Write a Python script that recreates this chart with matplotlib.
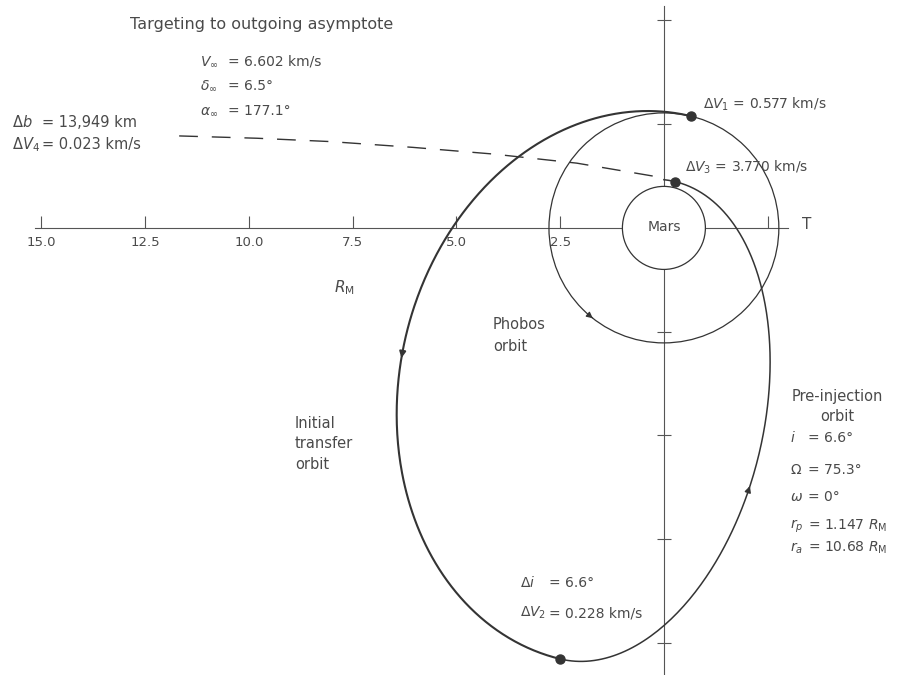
import numpy as np
import matplotlib
matplotlib.use("Agg")
import matplotlib.pyplot as plt
from matplotlib.patches import Circle, FancyArrowPatch

# radii in Mars radii (R_M)
r_mars = 1.0
r_phobos = 2.77
rp_pre, ra_pre = 1.147, 10.68      # pre-injection orbit
rp_xfer, ra_xfer = 2.77, 10.68     # initial transfer orbit (leaves Phobos orbit)
apse_deg = 103.5                   # line of apsides in the plot plane

# dashed track towards the outgoing asymptote
asym_x = [0.27, 2.10, 4.12, 6.05, 8.05, 9.81, 11.83]
asym_y = [1.25, 1.56, 1.78, 1.94, 2.08, 2.16, 2.22]

# where the direction arrows sit (polar angle, deg)
arrow_phobos = -51.0
arrow_xfer = -26.0
arrow_pre = -108.0

x_ticks = [15.0, 12.5, 10.0, 7.5, 5.0, 2.5, -2.5]
x_tick_labels = ["15.0", "12.5", "10.0", "7.5", "5.0", "2.5", ""]
y_ticks = [5.0, 2.5, -2.5, -5.0, -7.5, -10.0]

LINE = "#343434"
AXC = "#555555"
TXT = "#4a4a4a"

plt.rcParams["font.family"] = "DejaVu Sans"
plt.rcParams["mathtext.fontset"] = "dejavusans"


def conic(rp, ra, th_deg):
    e = (ra - rp) / (ra + rp)
    p = rp * (1 + e)
    th = np.radians(th_deg)
    r = p / (1 + e * np.cos(th - np.radians(apse_deg)))
    return r * np.cos(th), r * np.sin(th)


def circ(r, th_deg):
    th = np.radians(th_deg)
    return r * np.cos(th), r * np.sin(th)


def arrow(ax, fn, th, lw):
    # short arrow along decreasing polar angle
    x0, y0 = fn(th + 0.8)
    x1, y1 = fn(th - 0.8)
    ax.add_patch(FancyArrowPatch((x0, y0), (x1, y1), arrowstyle="-|>",
                                 mutation_scale=9, color=LINE, lw=lw, zorder=4))


fig = plt.figure(figsize=(9, 6.75), dpi=100)
ax = fig.add_axes([0, 0, 1, 1])
ax.set_xlim(16.0, -5.69)
ax.set_ylim(-10.77, 5.49)

# axes through Mars centre
for side in ["top", "right"]:
    ax.spines[side].set_visible(False)
ax.spines["bottom"].set_position(("data", 0))
ax.spines["left"].set_position(("data", 0))
ax.spines["bottom"].set_bounds(-3.0, 15.15)
ax.spines["left"].set_bounds(-10.8, 5.35)
for side in ["bottom", "left"]:
    ax.spines[side].set_color(AXC)
    ax.spines[side].set_linewidth(0.8)
ax.set_xticks(x_ticks)
ax.set_xticklabels(x_tick_labels)
ax.set_yticks(y_ticks)
ax.set_yticklabels([])
ax.tick_params(axis="x", direction="in", length=8.5, width=0.8, color=AXC,
               labelsize=9.5, labelcolor=TXT, pad=6)
ax.tick_params(axis="y", direction="inout", length=10.5, width=0.8, color=AXC)

# Mars and Phobos orbit
ax.add_patch(Circle((0, 0), r_mars, fc="white", ec=LINE, lw=0.9, zorder=3))
ax.add_patch(Circle((0, 0), r_phobos, fill=False, ec=LINE, lw=0.9, zorder=3))
ax.text(0, 0.03, "Mars", fontsize=10, color=TXT, ha="center", va="center", zorder=5)

# initial transfer orbit: Phobos orbit -> apoapsis
th = np.linspace(apse_deg - 180, apse_deg, 400)
xt, yt = conic(rp_xfer, ra_xfer, th)
ax.plot(xt, yt, color=LINE, lw=1.5, zorder=3)

# pre-injection orbit: apoapsis -> periapsis and on to the T axis crossing
th = np.linspace(90, apse_deg + 180, 400)
xp, yp = conic(rp_pre, ra_pre, th)
ax.plot(xp, yp, color=LINE, lw=1.1, zorder=3)

# dashed track
ax.plot(asym_x, asym_y, color=LINE, lw=1.0, dashes=(13.5, 10), zorder=3)

# burn points
dv1 = conic(rp_xfer, ra_xfer, apse_deg)
dv2 = conic(rp_pre, ra_pre, apse_deg - 180)
dv3 = conic(rp_pre, ra_pre, apse_deg)
for px, py in [dv1, dv2, dv3]:
    ax.plot(px, py, "o", ms=6.5, color=LINE, zorder=5)

arrow(ax, lambda t: circ(r_phobos, t), arrow_phobos, 0.9)
arrow(ax, lambda t: conic(rp_xfer, ra_xfer, t), arrow_xfer, 1.5)
arrow(ax, lambda t: conic(rp_pre, ra_pre, t), arrow_pre, 1.1)

kw = dict(color=TXT, va="center", ha="left")
ax.text(12.87, 4.89, "Targeting to outgoing asymptote", fontsize=11.5, **kw)

ax.text(11.18, 4.0, r"$V_\infty$", fontsize=10, **kw)
ax.text(10.51, 4.0, "= 6.602 km/s", fontsize=10, **kw)
ax.text(11.18, 3.43, r"$\delta_\infty$", fontsize=10, **kw)
ax.text(10.51, 3.43, "= 6.5°", fontsize=10, **kw)
ax.text(11.18, 2.82, r"$\alpha_\infty$", fontsize=10, **kw)
ax.text(10.51, 2.82, "= 177.1°", fontsize=10, **kw)

ax.text(15.71, 2.55, r"$\Delta b$", fontsize=10.5, **kw)
ax.text(14.98, 2.55, "= 13,949 km", fontsize=10.5, **kw)
ax.text(15.71, 2.0, r"$\Delta V_4$", fontsize=10.5, **kw)
ax.text(14.98, 2.0, "= 0.023 km/s", fontsize=10.5, **kw)

ax.text(-0.94, 2.98, r"$\Delta V_1$ = 0.577 km/s", fontsize=10, **kw)
ax.text(-0.51, 1.47, r"$\Delta V_3$ = 3.770 km/s", fontsize=10, **kw)

ax.text(-3.45, 0.08, "T", fontsize=11, color=TXT, ha="center", va="center")
ax.text(7.69, -1.45, r"$R_{\rm M}$", fontsize=11, color=TXT, ha="center", va="center")

ax.text(4.12, -2.6, "Phobos\norbit", fontsize=10.5, linespacing=1.6, **kw)
ax.text(8.89, -5.2, "Initial\ntransfer\norbit", fontsize=10.5, linespacing=1.45, **kw)
ax.text(-4.17, -4.3, "Pre-injection\norbit", fontsize=10.5, linespacing=1.35,
        color=TXT, va="center", ha="center", multialignment="center")

params = [(r"$i$", "= 6.6°", -5.06), (r"$\Omega$", "= 75.3°", -5.83),
          (r"$\omega$", "= 0°", -6.48), (r"$r_p$", r"= 1.147 $R_{\rm M}$", -7.18),
          (r"$r_a$", r"= 10.68 $R_{\rm M}$", -7.71)]
for sym, val, yy in params:
    ax.text(-3.04, yy, sym, fontsize=10, **kw)
    ax.text(-3.47, yy, val, fontsize=10, **kw)

ax.text(3.47, -8.55, r"$\Delta i$", fontsize=10, **kw)
ax.text(2.76, -8.55, "= 6.6°", fontsize=10, **kw)
ax.text(3.47, -9.28, r"$\Delta V_2$", fontsize=10, **kw)
ax.text(2.76, -9.28, "= 0.228 km/s", fontsize=10, **kw)

fig.savefig("out.png", dpi=100, facecolor="white")
